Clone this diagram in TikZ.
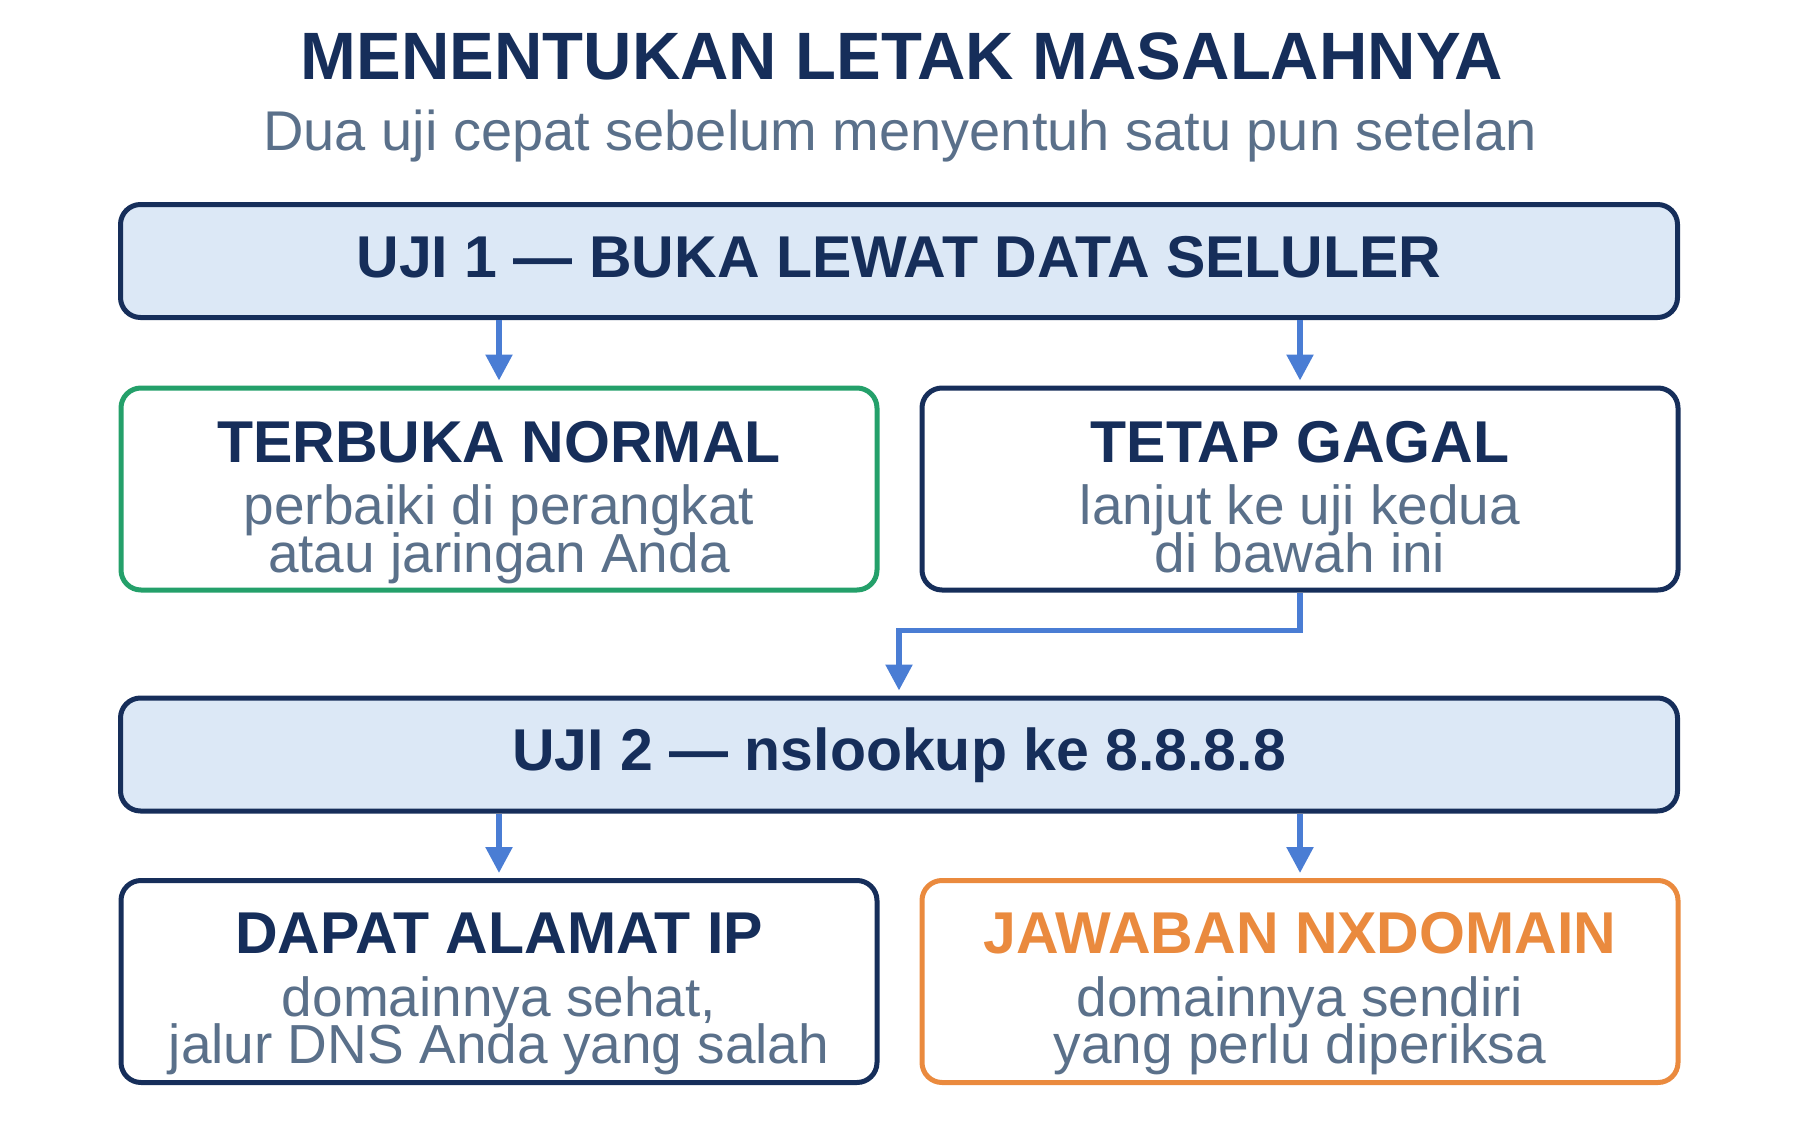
\documentclass[tikz,border=0pt]{standalone}
\usepackage{fontspec}
\setmainfont{Liberation Sans}
\usetikzlibrary{arrows.meta,calc}

\definecolor{navy}{RGB}{22,46,90}
\definecolor{subgray}{RGB}{90,112,138}
\definecolor{testfill}{RGB}{220,232,246}
\definecolor{flowblue}{RGB}{74,125,212}
\definecolor{okgreen}{RGB}{36,160,106}
\definecolor{nxorange}{RGB}{234,138,62}

\tikzset{
  testbox/.style={draw=navy, fill=testfill, rounded corners=20pt, line width=5pt,
    minimum width=1557pt, minimum height=113pt, text height=42pt, text depth=10pt,
    font=\fontsize{59}{60}\selectfont\bfseries, text=navy},
  resbox/.style={draw=#1, fill=white, rounded corners=20pt, line width=5pt,
    minimum width=756pt, minimum height=202pt},
  headtxt/.style={anchor=base, inner sep=0pt, font=\fontsize{59}{60}\selectfont\bfseries, text=navy},
  subtxt/.style={anchor=base, inner sep=0pt, font=\fontsize{55}{60}\selectfont, text=subgray},
  flow/.style={draw=flowblue, line width=5.5pt, -{Triangle[width=26pt,length=26pt]}, shorten >=5pt},
}

\begin{document}
\begin{tikzpicture}[x=1pt,y=-1pt]
\useasboundingbox (0,0) rectangle (1800,1140);

% judul
\node[anchor=base, font=\fontsize{67}{70}\selectfont\bfseries, text=navy] (title) at (902,80) {MENENTUKAN LETAK MASALAHNYA};
\node[anchor=base, font=\fontsize{56}{60}\selectfont, text=subgray] (subtitle) at (900,150) {Dua uji cepat sebelum menyentuh satu pun setelan};

% uji 1
\node[testbox] (test1) at (899,261) {UJI 1 — BUKA LEWAT DATA SELULER};
\node[resbox=okgreen] (ok) at (499,489) {};
\node[resbox=navy] (fail) at (1300,489) {};
\node[headtxt] (okhead) at ([yshift=-77pt]ok.north) {TERBUKA NORMAL};
\node[subtxt] (oksub1) at ([yshift=-139pt]ok.north) {perbaiki di perangkat};
\node[subtxt] (oksub2) at ([yshift=-187pt]ok.north) {atau jaringan Anda};
\node[headtxt] (failhead) at ([yshift=-77pt]fail.north) {TETAP GAGAL};
\node[subtxt] (failsub1) at ([yshift=-139pt]fail.north) {lanjut ke uji kedua};
\node[subtxt] (failsub2) at ([yshift=-187pt]fail.north) {di bawah ini};

% uji 2
\node[testbox] (test2) at (899,754.5) {UJI 2 — nslookup ke 8.8.8.8};
\node[resbox=navy] (ip) at (499,981.5) {};
\node[resbox=nxorange] (nx) at (1300,981.5) {};
\node[headtxt] (iphead) at ([yshift=-75pt]ip.north) {DAPAT ALAMAT IP};
\node[subtxt] (ipsub1) at ([yshift=-138pt]ip.north) {domainnya sehat,};
\node[subtxt] (ipsub2) at ([yshift=-185pt]ip.north) {jalur DNS Anda yang salah};
\node[headtxt, text=nxorange] (nxhead) at ([yshift=-75pt]nx.north) {JAWABAN NXDOMAIN};
\node[subtxt] (nxsub1) at ([yshift=-138pt]nx.north) {domainnya sendiri};
\node[subtxt] (nxsub2) at ([yshift=-185pt]nx.north) {yang perlu diperiksa};

\draw[flow] (test1.south -| ok.north) -- (ok.north);
\draw[flow] (test1.south -| fail.north) -- (fail.north);
\draw[flow] (fail.south) -- ++(0,38) -| (test2.north);
\draw[flow] (test2.south -| ip.north) -- (ip.north);
\draw[flow] (test2.south -| nx.north) -- (nx.north);
\end{tikzpicture}
\end{document}
